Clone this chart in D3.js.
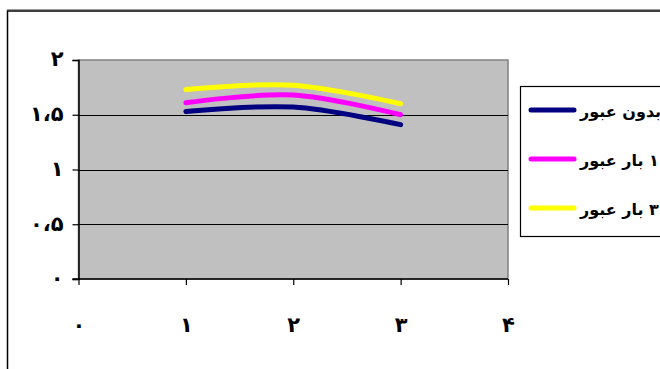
<!DOCTYPE html>
<html>
<head>
<meta charset="utf-8">
<script src="https://cdn.jsdelivr.net/npm/d3@7"></script>
<style>
  html, body { margin: 0; padding: 0; background: #fff; }
  svg { display: block; }
  text { font-family: "DejaVu Sans", sans-serif; font-weight: bold; fill: #000; }
</style>
</head>
<body>
<svg id="chart" width="660" height="369"></svg>
<script>
// Measurement positions along the x axis
const xValues = [1, 2, 3];

// Series names and values
const seriesNames = ["بدون عبور", "۱ بار عبور", "۳ بار عبور"];
const seriesNone = [1.53, 1.57, 1.41];
const seriesOne = [1.61, 1.68, 1.50];
const seriesThree = [1.73, 1.77, 1.60];
const seriesColors = ["#000080", "#ff00ff", "#ffff00"];

// Axis tick values and their Persian labels
const xTicks = [0, 1, 2, 3, 4];
const xTickLabels = ["۰", "۱", "۲", "۳", "۴"];
const yTicks = [0, 0.5, 1, 1.5, 2];
const yTickLabels = ["۰", "۰،۵", "۱", "۱،۵", "۲"];

const svg = d3.select("#chart");

// Outer chart frame
svg.append("line").attr("x1", 7).attr("x2", 660).attr("y1", 9.5).attr("y2", 9.5)
  .attr("stroke", "#9a9a9a").attr("stroke-width", 1);
svg.append("rect").attr("x", 7.5).attr("y", 11).attr("width", 700).attr("height", 400)
  .attr("fill", "none").attr("stroke", "#000").attr("stroke-width", 1.5);

const plot = { left: 78.5, right: 508, top: 60, bottom: 279 };

const x = d3.scaleLinear().domain([0, 4]).range([plot.left, plot.right]);
const y = d3.scaleLinear().domain([0, 2]).range([plot.bottom, plot.top]);

// Plot area
svg.append("rect")
  .attr("x", plot.left).attr("y", plot.top)
  .attr("width", plot.right - plot.left).attr("height", plot.bottom - plot.top)
  .attr("fill", "#c0c0c0").attr("stroke", "#808080").attr("stroke-width", 1.5);

// Horizontal gridlines
svg.append("g").selectAll("line")
  .data(yTicks.filter(d => d > 0 && d < 2))
  .join("line")
  .attr("x1", plot.left).attr("x2", plot.right)
  .attr("y1", d => Math.round(y(d)) + 0.5).attr("y2", d => Math.round(y(d)) + 0.5)
  .attr("stroke", "#000").attr("stroke-width", 1);

// Y axis
const yAxis = d3.axisLeft(y).tickValues(yTicks).tickSize(6).tickPadding(9)
  .tickFormat((d, i) => yTickLabels[i]);
const gy = svg.append("g").attr("transform", `translate(${plot.left},0)`).call(yAxis);
gy.select(".domain").attr("stroke", "#000").attr("stroke-width", 1.5);
gy.selectAll(".tick line").attr("stroke", "#000").attr("stroke-width", 1.2);
gy.selectAll(".tick text").attr("font-size", 21).attr("font-family", "DejaVu Sans")
  .attr("font-weight", "bold").attr("direction", "ltr").attr("x", -15)
  .attr("dy", "0.28em");

// X axis
const xAxis = d3.axisBottom(x).tickValues(xTicks).tickSize(6).tickPadding(30)
  .tickFormat((d, i) => xTickLabels[i]);
const gx = svg.append("g").attr("transform", `translate(0,${plot.bottom})`).call(xAxis);
gx.select(".domain").attr("stroke", "#000").attr("stroke-width", 1.5)
  .attr("d", `M${plot.left - 6},0H${plot.right}`);
gx.selectAll(".tick line").attr("stroke", "#000").attr("stroke-width", 1.2);
gx.selectAll(".tick text").attr("font-size", 21).attr("font-family", "DejaVu Sans")
  .attr("font-weight", "bold").attr("y", 53).attr("dy", 0);

// Smoothed series lines
const line = d3.line()
  .x((d, i) => x(xValues[i]))
  .y(d => y(d))
  .curve(d3.curveCardinal.tension(0));

const allSeries = [seriesNone, seriesOne, seriesThree];
svg.append("g").selectAll("path")
  .data(allSeries)
  .join("path")
  .attr("d", d => line(d))
  .attr("fill", "none")
  .attr("stroke", (d, i) => seriesColors[i])
  .attr("stroke-width", 5)
  .attr("stroke-linecap", "round")
  .attr("stroke-linejoin", "round");

// Legend
const legend = svg.append("g");
legend.append("rect")
  .attr("x", 520.5).attr("y", 86.5).attr("width", 200).attr("height", 150)
  .attr("fill", "#fff").attr("stroke", "#000").attr("stroke-width", 1.2);

const legendRowY = [110, 159, 208];
seriesNames.forEach((name, i) => {
  legend.append("line")
    .attr("x1", 531).attr("x2", 574)
    .attr("y1", legendRowY[i]).attr("y2", legendRowY[i])
    .attr("stroke", seriesColors[i]).attr("stroke-width", 5)
    .attr("stroke-linecap", "round");
  const t = legend.append("text")
    .attr("x", 579).attr("y", legendRowY[i] + 7)
    .attr("font-size", 16)
    .attr("direction", "rtl")
    .attr("text-anchor", "end")
    .text(name);
  // keep the left edge of the label right after the sample line
  const bb = t.node().getBBox();
  t.attr("x", 579 + (579 - bb.x));
});
</script>
</body>
</html>
